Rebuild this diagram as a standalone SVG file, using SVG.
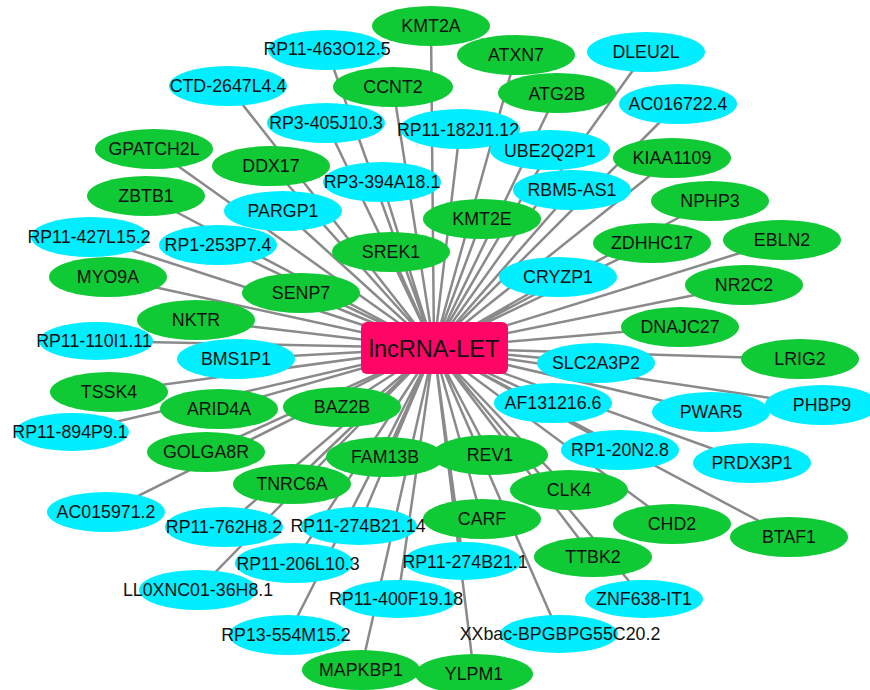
<svg xmlns="http://www.w3.org/2000/svg" width="870" height="690" viewBox="0 0 870 690">
<style>
.e{stroke:#8a8a8a;stroke-width:2.5;fill:none}
.g ellipse{fill:#0fc935}
.c ellipse{fill:#00eeff}
text{font-family:"Liberation Sans",Arial,sans-serif;font-size:17.8px;fill:#111;text-anchor:middle;dominant-baseline:central}
.hub rect{fill:#fe0566}
.hub text{font-size:23.5px}
</style>
<rect width="870" height="690" fill="#fff"/>
<g id="connectors">
<path class="e" d="M434 348L431 26M434 348L327 50M434 348L516 55M434 348L646 52M434 348L228 86M434 348L393 87M434 348L557 93M434 348L678 104M434 348L326 123M434 348L460 129M434 348L550 150M434 348L672 158M434 348L154 149M434 348L271 166M434 348L382 182M434 348L572 190M434 348L710 201M434 348L146 196M434 348L283 211M434 348L482 219M434 348L652 243M434 348L782 240M434 348L90 237M434 348L218 245M434 348L391 252M434 348L558 277M434 348L744 285M434 348L108 277M434 348L301 293M434 348L680 327M434 348L196 320M434 348L95 341M434 348L236 359M434 348L596 363M434 348L800 359M434 348L109 392M434 348L219 409M434 348L342 407M434 348L553 403M434 348L711 412M434 348L818 405M434 348L72 432M434 348L206 452M434 348L385 457M434 348L490 455M434 348L620 450M434 348L752 463M434 348L569 490M434 348L292 484M434 348L106 512M434 348L672 524M434 348L789 537M434 348L482 519M434 348L224 527M434 348L359 526M434 348L593 557M434 348L294 563M434 348L463 561M434 348L198 590M434 348L644 599M434 348L398 599M434 348L288 635M434 348L559 634M434 348L361 670M434 348L474 674"/>
</g>
<g id="n-KMT2A" class="g"><ellipse cx="431" cy="26" rx="59" ry="20"/><text x="431" y="26">KMT2A</text></g>
<g id="n-RP11-463O12.5" class="c"><ellipse cx="327" cy="50" rx="59" ry="20"/><text x="327" y="49">RP11-463O12.5</text></g>
<g id="n-ATXN7" class="g"><ellipse cx="516" cy="55" rx="59" ry="20"/><text x="516" y="55">ATXN7</text></g>
<g id="n-DLEU2L" class="c"><ellipse cx="646" cy="52" rx="59" ry="20"/><text x="646" y="52">DLEU2L</text></g>
<g id="n-CTD-2647L4.4" class="c"><ellipse cx="228" cy="86" rx="59" ry="20"/><text x="228" y="86">CTD-2647L4.4</text></g>
<g id="n-CCNT2" class="g"><ellipse cx="393" cy="87" rx="60" ry="20"/><text x="393" y="87">CCNT2</text></g>
<g id="n-ATG2B" class="g"><ellipse cx="557" cy="93" rx="59" ry="20"/><text x="557" y="94">ATG2B</text></g>
<g id="n-AC016722.4" class="c"><ellipse cx="678" cy="104" rx="59" ry="20"/><text x="678" y="104">AC016722.4</text></g>
<g id="n-RP3-405J10.3" class="c"><ellipse cx="326" cy="123" rx="59" ry="20"/><text x="326" y="123">RP3-405J10.3</text></g>
<g id="n-RP11-182J1.12" class="c"><ellipse cx="460" cy="129" rx="60" ry="20"/><text x="458" y="130">RP11-182J1.12</text></g>
<g id="n-UBE2Q2P1" class="c"><ellipse cx="550" cy="150" rx="60" ry="20"/><text x="550" y="151">UBE2Q2P1</text></g>
<g id="n-KIAA1109" class="g"><ellipse cx="672" cy="158" rx="59" ry="20"/><text x="672" y="158">KIAA1109</text></g>
<g id="n-GPATCH2L" class="g"><ellipse cx="154" cy="149" rx="59" ry="20"/><text x="154" y="149">GPATCH2L</text></g>
<g id="n-DDX17" class="g"><ellipse cx="271" cy="166" rx="59" ry="20"/><text x="271" y="166">DDX17</text></g>
<g id="n-RP3-394A18.1" class="c"><ellipse cx="382" cy="182" rx="59" ry="20"/><text x="382" y="182">RP3-394A18.1</text></g>
<g id="n-RBM5-AS1" class="c"><ellipse cx="572" cy="190" rx="59" ry="20"/><text x="572" y="190">RBM5-AS1</text></g>
<g id="n-NPHP3" class="g"><ellipse cx="710" cy="201" rx="59" ry="20"/><text x="710" y="201">NPHP3</text></g>
<g id="n-ZBTB1" class="g"><ellipse cx="146" cy="196" rx="59" ry="20"/><text x="146" y="196">ZBTB1</text></g>
<g id="n-PARGP1" class="c"><ellipse cx="283" cy="211" rx="59" ry="20"/><text x="283" y="211">PARGP1</text></g>
<g id="n-KMT2E" class="g"><ellipse cx="482" cy="219" rx="59" ry="20"/><text x="482" y="219">KMT2E</text></g>
<g id="n-ZDHHC17" class="g"><ellipse cx="652" cy="243" rx="59" ry="20"/><text x="652" y="243">ZDHHC17</text></g>
<g id="n-EBLN2" class="g"><ellipse cx="782" cy="240" rx="59" ry="20"/><text x="782" y="240">EBLN2</text></g>
<g id="n-RP11-427L15.2" class="c"><ellipse cx="90" cy="237" rx="59" ry="20"/><text x="89" y="237">RP11-427L15.2</text></g>
<g id="n-RP1-253P7.4" class="c"><ellipse cx="218" cy="245" rx="59" ry="20"/><text x="218" y="245">RP1-253P7.4</text></g>
<g id="n-SREK1" class="g"><ellipse cx="391" cy="252" rx="59" ry="20"/><text x="391" y="252">SREK1</text></g>
<g id="n-CRYZP1" class="c"><ellipse cx="558" cy="277" rx="59" ry="20"/><text x="558" y="277">CRYZP1</text></g>
<g id="n-NR2C2" class="g"><ellipse cx="744" cy="285" rx="59" ry="20"/><text x="744" y="285">NR2C2</text></g>
<g id="n-MYO9A" class="g"><ellipse cx="108" cy="277" rx="59" ry="20"/><text x="108" y="277">MYO9A</text></g>
<g id="n-SENP7" class="g"><ellipse cx="301" cy="293" rx="59" ry="20"/><text x="301" y="293">SENP7</text></g>
<g id="n-DNAJC27" class="g"><ellipse cx="680" cy="327" rx="59" ry="20"/><text x="680" y="327">DNAJC27</text></g>
<g id="n-NKTR" class="g"><ellipse cx="196" cy="320" rx="59" ry="20"/><text x="196" y="320">NKTR</text></g>
<g id="n-RP11-110I1.11" class="c"><ellipse cx="96" cy="341" rx="57" ry="19"/><text x="94" y="341">RP11-110I1.11</text></g>
<g id="n-BMS1P1" class="c"><ellipse cx="236" cy="359" rx="59" ry="20"/><text x="236" y="359">BMS1P1</text></g>
<g id="n-SLC2A3P2" class="c"><ellipse cx="596" cy="363" rx="59" ry="20"/><text x="596" y="363">SLC2A3P2</text></g>
<g id="n-LRIG2" class="g"><ellipse cx="800" cy="359" rx="59" ry="20"/><text x="800" y="359">LRIG2</text></g>
<g id="n-TSSK4" class="g"><ellipse cx="109" cy="392" rx="59" ry="20"/><text x="109" y="392">TSSK4</text></g>
<g id="n-ARID4A" class="g"><ellipse cx="219" cy="409" rx="59" ry="20"/><text x="219" y="409">ARID4A</text></g>
<g id="n-BAZ2B" class="g"><ellipse cx="342" cy="407" rx="59" ry="20"/><text x="342" y="407">BAZ2B</text></g>
<g id="n-AF131216.6" class="c"><ellipse cx="553" cy="403" rx="59" ry="20"/><text x="553" y="403">AF131216.6</text></g>
<g id="n-PWAR5" class="c"><ellipse cx="711" cy="412" rx="59" ry="20"/><text x="711" y="412">PWAR5</text></g>
<g id="n-PHBP9" class="c"><ellipse cx="822" cy="405" rx="57" ry="20"/><text x="822" y="405">PHBP9</text></g>
<g id="n-RP11-894P9.1" class="c"><ellipse cx="72" cy="432" rx="57" ry="19"/><text x="70" y="432">RP11-894P9.1</text></g>
<g id="n-GOLGA8R" class="g"><ellipse cx="206" cy="452" rx="59" ry="20"/><text x="206" y="452">GOLGA8R</text></g>
<g id="n-FAM13B" class="g"><ellipse cx="385" cy="457" rx="59" ry="20"/><text x="385" y="457">FAM13B</text></g>
<g id="n-REV1" class="g"><ellipse cx="490" cy="455" rx="58" ry="20"/><text x="490" y="455">REV1</text></g>
<g id="n-RP1-20N2.8" class="c"><ellipse cx="620" cy="450" rx="59" ry="20"/><text x="620" y="450">RP1-20N2.8</text></g>
<g id="n-PRDX3P1" class="c"><ellipse cx="752" cy="463" rx="59" ry="20"/><text x="752" y="463">PRDX3P1</text></g>
<g id="n-CLK4" class="g"><ellipse cx="569" cy="490" rx="59" ry="20"/><text x="569" y="490">CLK4</text></g>
<g id="n-TNRC6A" class="g"><ellipse cx="292" cy="484" rx="59" ry="20"/><text x="292" y="484">TNRC6A</text></g>
<g id="n-AC015971.2" class="c"><ellipse cx="106" cy="512" rx="59" ry="20"/><text x="106" y="512">AC015971.2</text></g>
<g id="n-CHD2" class="g"><ellipse cx="672" cy="524" rx="59" ry="20"/><text x="672" y="524">CHD2</text></g>
<g id="n-BTAF1" class="g"><ellipse cx="789" cy="537" rx="59" ry="20"/><text x="789" y="537">BTAF1</text></g>
<g id="n-CARF" class="g"><ellipse cx="482" cy="519" rx="59" ry="20"/><text x="482" y="519">CARF</text></g>
<g id="n-RP11-762H8.2" class="c"><ellipse cx="224" cy="527" rx="59" ry="20"/><text x="224" y="527">RP11-762H8.2</text></g>
<g id="n-RP11-274B21.14" class="c"><ellipse cx="359" cy="526" rx="58" ry="19"/><text x="358" y="526">RP11-274B21.14</text></g>
<g id="n-TTBK2" class="g"><ellipse cx="593" cy="557" rx="59" ry="20"/><text x="593" y="557">TTBK2</text></g>
<g id="n-RP11-206L10.3" class="c"><ellipse cx="294" cy="563" rx="59" ry="20"/><text x="298" y="564">RP11-206L10.3</text></g>
<g id="n-RP11-274B21.1" class="c"><ellipse cx="463" cy="561" rx="59" ry="19"/><text x="465" y="562">RP11-274B21.1</text></g>
<g id="n-LL0XNC01-36H8.1" class="c"><ellipse cx="198" cy="590" rx="59" ry="20"/><text x="198" y="590">LL0XNC01-36H8.1</text></g>
<g id="n-ZNF638-IT1" class="c"><ellipse cx="644" cy="599" rx="59" ry="19"/><text x="644" y="599">ZNF638-IT1</text></g>
<g id="n-RP11-400F19.18" class="c"><ellipse cx="398" cy="599" rx="59" ry="19"/><text x="396" y="599">RP11-400F19.18</text></g>
<g id="n-RP13-554M15.2" class="c"><ellipse cx="288" cy="635" rx="59" ry="20"/><text x="286" y="635">RP13-554M15.2</text></g>
<g id="n-XXbac-BPGBPG55C20.2" class="c"><ellipse cx="559" cy="634" rx="59" ry="19"/><text x="560" y="634">XXbac-BPGBPG55C20.2</text></g>
<g id="n-MAPKBP1" class="g"><ellipse cx="361" cy="670" rx="59" ry="20"/><text x="361" y="670">MAPKBP1</text></g>
<g id="n-YLPM1" class="g"><ellipse cx="474" cy="674" rx="59" ry="20"/><text x="474" y="674">YLPM1</text></g>
<g id="n-lncRNA-LET" class="hub"><rect x="361" y="322" width="147" height="52" rx="6"/><text x="434" y="349">lncRNA-LET</text></g>
</svg>
